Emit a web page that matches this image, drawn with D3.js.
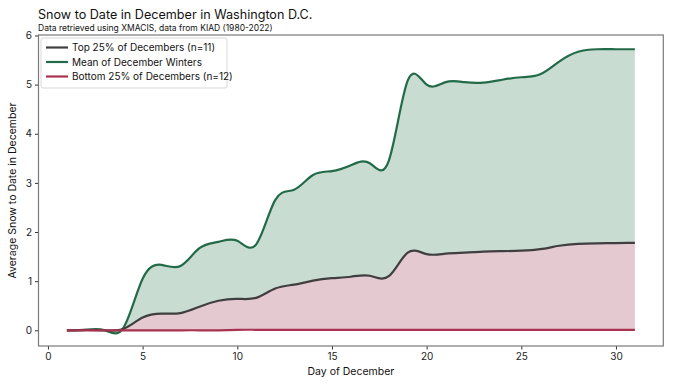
<!DOCTYPE html>
<html>
<head>
<meta charset="utf-8">
<script src="https://cdn.jsdelivr.net/npm/d3@7"></script>
<style>
  body { margin: 0; background: #fff; }
  text { font-family: Inter, "DejaVu Sans", sans-serif; }
</style>
</head>
<body>
<div id="chart-area"></div>
<script>

var width = 680,
    height = 385;

// Data
var days = d3.range(1, 32);
var meanWinter = [0, 0.01, 0, 0.06, 1.05, 1.33, 1.31, 1.67, 1.8, 1.82, 1.75, 2.65, 2.86, 3.16, 3.24, 3.36, 3.4, 3.45, 5.08, 5.0,
    5.05, 5.05, 5.04, 5.1, 5.15, 5.21, 5.47, 5.67, 5.72, 5.72, 5.72];
var top25 = [0, 0.01, 0, 0.03, 0.26, 0.34, 0.35, 0.48, 0.6, 0.64, 0.66, 0.85, 0.93, 1.01, 1.06, 1.09, 1.11, 1.1, 1.58, 1.55,
    1.56, 1.58, 1.6, 1.61, 1.62, 1.65, 1.72, 1.76, 1.77, 1.775, 1.78];
var bottom25 = [0, 0, 0, 0, 0, 0, 0, 0, 0, 0.01, 0.01, 0.01, 0.01, 0.01, 0.01, 0.01, 0.01, 0.01, 0.01, 0.01,
    0.01, 0.01, 0.01, 0.01, 0.01, 0.01, 0.01, 0.01, 0.01, 0.01, 0.01];
var xTicks = [0, 5, 10, 15, 20, 25, 30];
var yTicks = [0, 1, 2, 3, 4, 5, 6];
var legendLabels = ["Top 25% of Decembers (n=11)", "Mean of December Winters", "Bottom 25% of Decembers (n=12)"];
var legendColors = ["#3f3f3f", "#236b48", "#a8324f"];

var margin = {left: 38.5, right: 16.7, top: 35, bottom: 39};

var svg = d3.select("#chart-area").append("svg")
    .attr("width", width)
    .attr("height", height);

var x = d3.scaleLinear().domain([-0.5, 32.5]).range([margin.left, width - margin.right]);
var y = d3.scaleLinear().domain([-0.32, 6.01]).range([height - margin.bottom, margin.top]);

var rows = days.map(function(d, i) {
    return {day: d, mean: meanWinter[i], top: top25[i], bottom: bottom25[i]};
});

var curve = d3.curveNatural;

// Filled bands
svg.append("path")
    .datum(rows)
    .attr("fill", "#c8dcd2")
    .attr("d", d3.area().curve(curve)
        .x(function(d) { return x(d.day); })
        .y0(function(d) { return y(d.top); })
        .y1(function(d) { return y(d.mean); }));

svg.append("path")
    .datum(rows)
    .attr("fill", "#e5c9d1")
    .attr("d", d3.area().curve(curve)
        .x(function(d) { return x(d.day); })
        .y0(function(d) { return y(d.bottom); })
        .y1(function(d) { return y(d.top); }));

// Lines
function drawLine(key, color) {
    svg.append("path")
        .datum(rows)
        .attr("fill", "none")
        .attr("stroke", color)
        .attr("stroke-width", 2.2)
        .attr("d", d3.line().curve(curve)
            .x(function(d) { return x(d.day); })
            .y(function(d) { return y(d[key]); }));
}
drawLine("mean", legendColors[1]);
drawLine("top", legendColors[0]);
drawLine("bottom", legendColors[2]);

// Axes
var xAxis = svg.append("g")
    .attr("transform", "translate(0," + (height - margin.bottom) + ")")
    .call(d3.axisBottom(x).tickValues(xTicks).tickFormat(d3.format("d")).tickSize(3.5).tickPadding(3));
var yAxis = svg.append("g")
    .attr("transform", "translate(" + margin.left + ",0)")
    .call(d3.axisLeft(y).tickValues(yTicks).tickFormat(d3.format("d")).tickSize(3.5).tickPadding(3));

[xAxis, yAxis].forEach(function(a) {
    a.select(".domain").remove();
    a.selectAll("line").attr("stroke", "#333");
    a.selectAll("text").attr("font-size", 10).attr("fill", "#222")
        .style("font-family", "Inter, sans-serif");
});

// Frame
svg.append("rect")
    .attr("x", margin.left)
    .attr("y", margin.top)
    .attr("width", width - margin.left - margin.right)
    .attr("height", height - margin.top - margin.bottom)
    .attr("fill", "none")
    .attr("stroke", "#7a7a7a")
    .attr("stroke-width", 1.2);

// Titles
svg.append("text")
    .attr("x", 38)
    .attr("y", 19)
    .attr("font-size", 12.6)
    .attr("fill", "#111")
    .text("Snow to Date in December in Washington D.C.");

svg.append("text")
    .attr("x", 38)
    .attr("y", 31)
    .attr("font-size", 8.5)
    .attr("fill", "#111")
    .text("Data retrieved using XMACIS, data from KIAD (1980-2022)");

svg.append("text")
    .attr("x", (margin.left + width - margin.right) / 2)
    .attr("y", 375)
    .attr("text-anchor", "middle")
    .attr("font-size", 10.5)
    .attr("fill", "#111")
    .text("Day of December");

svg.append("text")
    .attr("transform", "translate(16," + ((margin.top + height - margin.bottom) / 2) + ") rotate(-90)")
    .attr("text-anchor", "middle")
    .attr("font-size", 10.5)
    .attr("fill", "#111")
    .text("Average Snow to Date in December");

// Legend
var legend = svg.append("g").attr("transform", "translate(41,38)");
legend.append("rect")
    .attr("width", 186)
    .attr("height", 50)
    .attr("rx", 2)
    .attr("fill", "#fff")
    .attr("fill-opacity", 0.85)
    .attr("stroke", "#d8d8d8");

var item = legend.selectAll(".item")
    .data(legendLabels)
    .enter().append("g")
    .attr("class", "item")
    .attr("transform", function(d, i) { return "translate(0," + (9.5 + i * 14.5) + ")"; });

item.append("line")
    .attr("x1", 5).attr("x2", 27)
    .attr("stroke", function(d, i) { return legendColors[i]; })
    .attr("stroke-width", 2.2);

item.append("text")
    .attr("x", 31)
    .attr("y", 3.5)
    .attr("font-size", 10)
    .attr("fill", "#111")
    .text(function(d) { return d; });

</script>
</body>
</html>
